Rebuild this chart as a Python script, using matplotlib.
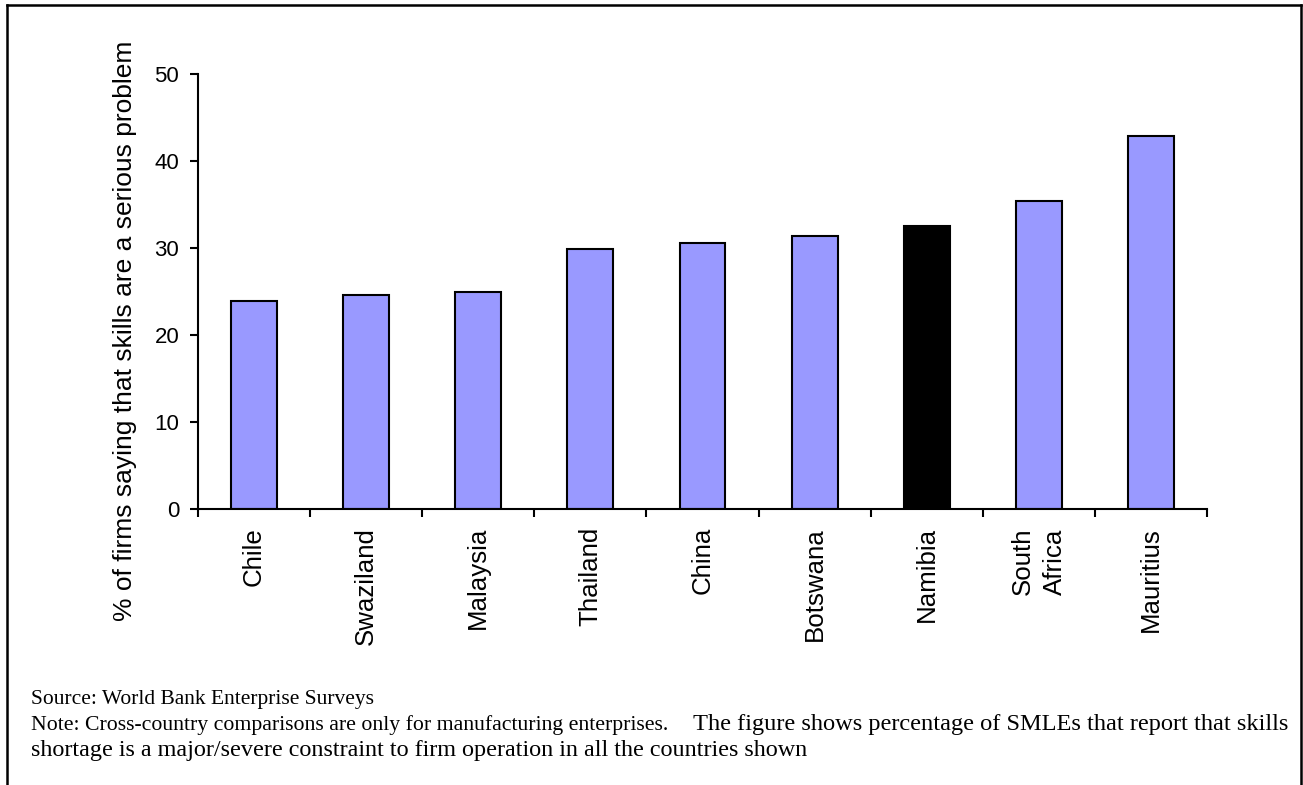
import matplotlib
matplotlib.use("Agg")
import matplotlib.pyplot as plt
from matplotlib.lines import Line2D

countries = ["Chile", "Swaziland", "Malaysia", "Thailand", "China",
             "Botswana", "Namibia", "South\nAfrica", "Mauritius"]
share_serious = [23.9, 24.6, 24.9, 29.9, 30.6, 31.4, 32.5, 35.4, 42.9]
highlight = "Namibia"
y_ticks = [0, 10, 20, 30, 40, 50]

W, H = 1303, 785
fig = plt.figure(figsize=(W / 100, H / 100), dpi=100)
fig.patch.set_facecolor("white")

ax = fig.add_axes([198 / W, 1 - 509 / H, (1207 - 198) / W, (509 - 74) / H])

colors = ["black" if c == highlight else "#9999FF" for c in countries]
x = list(range(len(countries)))
ax.bar(x, share_serious, width=0.41, color=colors, edgecolor="black",
       linewidth=1.5, zorder=2)

ax.set_xlim(-0.5, len(countries) - 0.5)
ax.set_ylim(0, 50)
ax.set_yticks(y_ticks)
ax.set_yticklabels([str(v) for v in y_ticks], fontfamily="Liberation Sans",
                   fontsize=16)

# category boundaries carry the tick marks, names sit between them
ax.set_xticks([i - 0.5 for i in range(len(countries) + 1)])
ax.set_xticklabels([])
ax.set_xticks(x, minor=True)
ax.set_xticklabels(countries, minor=True, rotation=90, fontsize=18.6,
                   fontfamily="Liberation Sans", va="top", ha="center",
                   multialignment="left", linespacing=1.45)
ax.tick_params(axis="x", which="minor", length=0, pad=13)
ax.tick_params(axis="x", which="major", length=5.5, width=1.5,
               direction="out")
ax.tick_params(axis="y", which="major", length=5.5, width=1.5,
               direction="out", pad=8)

for side in ("top", "right"):
    ax.spines[side].set_visible(False)
for side in ("left", "bottom"):
    ax.spines[side].set_linewidth(1.5)

fig.text(125.5 / W, 1 - 331 / H,
         "% of firms saying that skills are a serious problem",
         rotation=90, ha="center", va="center", fontsize=19,
         fontfamily="Liberation Sans")

# page frame around the figure block
fx0, fx1, fy = 7 / W, 1300.5 / W, 1 - 5 / H
frame_kw = dict(color="black", linewidth=1.8, transform=fig.transFigure)
fig.add_artist(Line2D([fx0, fx1], [fy, fy], **frame_kw))
fig.add_artist(Line2D([fx0, fx0], [0, fy], **frame_kw))
fig.add_artist(Line2D([fx1, fx1], [0, fy], **frame_kw))

serif = "Liberation Serif"
left = 31 / W
fig.text(left, 1 - 704 / H, "Source: World Bank Enterprise Surveys",
         fontsize=15.5, fontfamily=serif, va="baseline")
fig.text(left, 1 - 730 / H,
         "Note: Cross-country comparisons are only for manufacturing enterprises.",
         fontsize=15.7, fontfamily=serif, va="baseline")
fig.text(1288 / W, 1 - 730 / H,
         "The figure shows percentage of SMLEs that report that skills",
         fontsize=17.6, fontfamily=serif, va="baseline", ha="right")
fig.text(left, 1 - 756 / H,
         "shortage is a major/severe constraint to firm operation in all the countries shown",
         fontsize=17.4, fontfamily=serif, va="baseline")

fig.savefig("out.png", dpi=100)
